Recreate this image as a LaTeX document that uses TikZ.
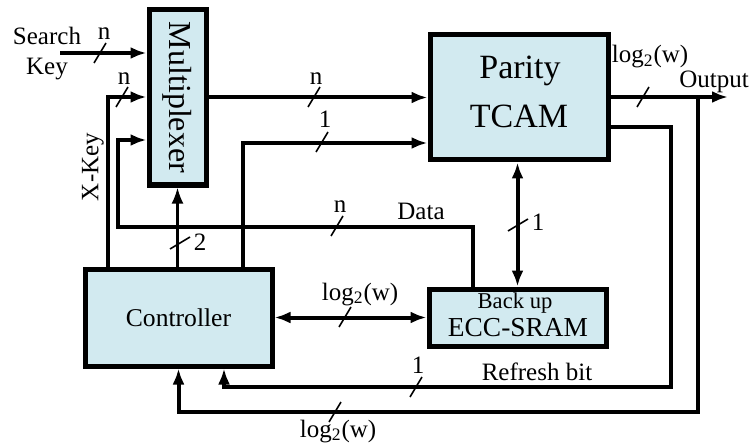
\documentclass[tikz,border=0pt]{standalone}
\usepackage{fontspec}
\setmainfont{Liberation Serif}
\usetikzlibrary{arrows.meta}
\definecolor{boxblue}{RGB}{210,234,240}
\begin{document}
\begin{tikzpicture}[x=0.5pt,y=-0.5pt,
 box/.style={draw=black,line width=2.5pt,fill=boxblue,inner sep=0pt,outer sep=1.25pt},
 wire/.style={line width=2pt},
 arr/.style={wire,-{Latex[length=8pt,width=6pt]}},
 darr/.style={wire,{Latex[length=8pt,width=6pt]}-{Latex[length=8pt,width=6pt]}},
 thinarr/.style={line width=1.2pt,-{Latex[length=8pt,width=6pt]}},
 tick/.style={line width=0.8pt},
 lbl/.style={font=\fontsize{12.5pt}{14pt}\selectfont,inner sep=0pt,anchor=base},
]
\useasboundingbox (0,0) rectangle (753,443);
% boxes
\node[box,minimum width=28.5pt,minimum height=87.5pt] (mux) at (177.5,97.5) {};
\node[rotate=-90,inner sep=0pt,font=\fontsize{16pt}{18pt}\selectfont] (muxt) at (177.5,97.5) {Multiplexer};
\node[box,minimum width=89pt,minimum height=62.5pt] (tcam) at (519,97.5) {};
\node[anchor=base,inner sep=0pt,font=\fontsize{17pt}{19pt}\selectfont] (tcamA) at (520,79) {Parity};
\node[anchor=base,inner sep=0pt,font=\fontsize{17pt}{19pt}\selectfont] (tcamB) at (519,128) {TCAM};
\node[box,minimum width=93.5pt,minimum height=48.5pt] (ctrl) at (178.5,317.5) {};
\node[anchor=base,inner sep=0pt,font=\fontsize{12.8pt}{15pt}\selectfont] (ctrlt) at (178.5,326) {Controller};
\node[box,minimum width=88.5pt,minimum height=28.5pt] (ecc) at (517.5,317.5) {};
\node[anchor=base,inner sep=0pt,font=\fontsize{11.3pt}{13pt}\selectfont] (eccA) at (515,308) {Back up};
\node[anchor=base,inner sep=0pt,font=\fontsize{13.7pt}{16pt}\selectfont] (eccB) at (518,336) {ECC-SRAM};
% free-end coordinates
\coordinate (sk) at (60,53);
\coordinate (xk) at (108,97);
\coordinate (dt) at (473,227);
\coordinate (dl) at (118,140);
\coordinate (ol) at (243,143);
\coordinate (out) at (728,97);
\coordinate (fb) at (698,412);
\coordinate (rt) at (671,127);
\coordinate (rf) at (671,387);
\coordinate (rb) at (224,387);
% connectors
\draw[arr] (sk) -- (sk -| mux.west);
\draw[arr] (xk |- ctrl.north) -- (xk) -- (xk -| mux.west);
\draw[arr] (dt |- ecc.north) -- (dt) -| (dl) -- (dl -| mux.west);
\draw[thinarr] (mux.south |- ctrl.north) -- (mux.south);
\draw[arr] (mux.east) -- (tcam.west);
\draw[arr] (ol |- ctrl.north) -- (ol) -- (ol -| tcam.west);
\draw[darr] (ecc.north) -- (ecc.north |- tcam.south);
\draw[darr] (ctrl.east) -- (ecc.west);
\draw[arr] (out -| tcam.east) -- (out);
\draw[arr] (fb |- out) -- (fb) -| (ctrl.south);
\draw[arr] (rt -| tcam.east) -- (rt) -- (rf) -- (rb) -- (rb |- ctrl.south);
% bus ticks
\foreach \x/\y in {100/53,122/97,314/97,322/142,337/226,345/317,643/97,416/387,335/412}
  \draw[tick] (\x-6,\y+10) -- (\x+6,\y-10);
\foreach \x/\y in {180/243,518/225}
  \draw[tick] (\x-10,\y+6) -- (\x+10,\y-6);
% labels
\node[lbl] (lsa) at (47,45) {Search};
\node[lbl] (lsb) at (47,75) {Key};
\node[lbl,anchor=center,rotate=90] (lxk) at (93,167) {X-Key};
\node[lbl] (n1) at (104,40) {n};
\node[lbl] (n2) at (124,85) {n};
\node[lbl] (n3) at (316,85) {n};
\node[lbl] (o1) at (325,128) {1};
\node[lbl] (n4) at (340,213) {n};
\node[lbl] (ldata) at (421,220) {Data};
\node[lbl] (l2) at (200,250) {2};
\node[lbl] (o2) at (538,230) {1};
\node[lbl] (lw1) at (360,300) {log\textsubscript{2}(w)};
\node[lbl] (lw2) at (650,63) {log\textsubscript{2}(w)};
\node[lbl] (lout) at (714,88) {Output};
\node[lbl] (o3) at (418,373) {1};
\node[lbl] (lref) at (537,380) {Refresh bit};
\node[lbl] (lw3) at (338,437) {log\textsubscript{2}(w)};
\end{tikzpicture}
\end{document}
